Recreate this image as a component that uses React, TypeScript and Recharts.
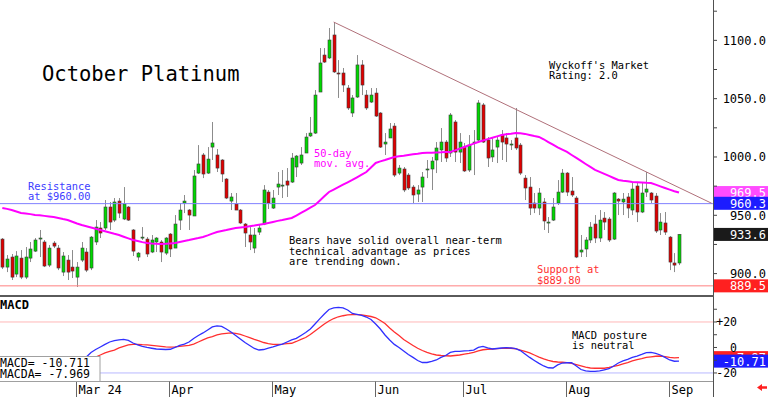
import React from "react";
import { ComposedChart, Bar, Line, XAxis, YAxis, ReferenceLine } from "recharts";

const FONT = "'DejaVu Sans Mono', 'Liberation Mono', monospace";
const PLOT_W = 714;
const AXIS_W = 54;
const SLOTS = 153; // 146 sessions + empty room on the right
const TOP_H = 296;
const MACD_TOP = 297;
const MACD_H = 100;
const DATE_H = 15.5;

// daily candles, Feb 7 .. Sep 5
const open = [
  929.6, 905.6, 914.2, 899.6, 913.3, 897.0, 913.3, 919.3, 930.1, 927.1,
  907.3, 926.2, 921.9, 901.3, 911.6, 905.6, 897.0, 911.6, 918.5, 904.8,
  927.1, 939.1, 939.1, 957.1, 945.9, 962.2, 946.8, 957.1, 937.4, 914.2,
  930.9, 929.6, 918.5, 927.1, 927.1, 917.6, 933.9, 921.9, 945.9, 960.5,
  954.5, 949.4, 986.2, 1001.7, 986.2, 1008.5, 1001.7, 997.4, 981.1, 962.2,
  959.7, 954.5, 942.5, 933.1, 921.9, 935.6, 942.5, 969.9, 956.2, 974.2,
  975.5, 979.4, 978.5, 991.4, 994.8, 1003.4, 1018.0, 1020.5, 1055.7, 1087.4,
  1084.9, 1104.6, 1072.0, 1072.0, 1059.1, 1037.7, 1051.4, 1078.9, 1053.1, 1047.1,
  1054.8, 1037.7, 1011.1, 1016.3, 1026.5, 986.2, 989.7, 984.5, 974.2, 968.2,
  974.2, 989.2, 989.7, 997.4, 1006.0, 1012.8, 1003.4, 1030.0, 1004.2, 1008.5,
  988.8, 1012.0, 1014.5, 1044.6, 1014.5, 1000.0, 1008.5, 1018.8, 1016.3, 1010.7,
  1016.3, 1010.2, 981.9, 974.2, 960.5, 956.2, 961.4, 943.4, 945.9, 960.5,
  969.9, 986.2, 970.8, 964.8, 918.5, 921.1, 928.8, 942.5, 930.5, 947.6,
  946.8, 929.6, 963.9, 961.4, 965.7, 954.5, 975.1, 952.8, 969.9, 969.1,
  966.5, 937.4, 943.4, 931.3, 909.1, 909.1,
];
const close = [
  905.6, 912.5, 897.0, 915.1, 897.0, 914.2, 921.1, 928.8, 930.5, 906.5,
  921.9, 923.6, 904.8, 915.1, 901.3, 902.2, 905.6, 921.9, 903.0, 931.3,
  939.9, 934.8, 957.1, 944.2, 961.4, 951.9, 959.7, 945.9, 919.3, 917.6,
  931.3, 916.8, 928.8, 930.5, 918.5, 930.5, 921.1, 942.5, 954.5, 962.2,
  950.2, 983.7, 994.0, 985.4, 998.2, 1012.0, 990.5, 985.4, 964.8, 965.7,
  954.5, 943.4, 934.8, 927.1, 933.1, 939.1, 971.7, 960.5, 964.8, 976.8,
  975.9, 975.9, 999.1, 1000.8, 1001.7, 1017.1, 1020.5, 1053.1, 1080.6, 1081.4,
  1100.3, 1072.9, 1071.6, 1061.7, 1042.0, 1050.6, 1078.9, 1061.7, 1042.0, 1053.1,
  1035.1, 1008.5, 1012.8, 1024.0, 984.5, 990.5, 971.7, 973.4, 967.4, 971.7,
  982.8, 989.7, 996.5, 1007.7, 1012.8, 999.1, 1036.0, 1004.2, 1012.8, 988.0,
  1010.2, 1012.8, 1046.3, 1012.8, 999.1, 1006.0, 1014.5, 1012.8, 1011.1, 1011.1,
  1007.7, 986.2, 973.4, 956.2, 956.2, 969.1, 945.1, 944.2, 957.1, 969.9,
  986.2, 969.9, 967.4, 914.2, 920.2, 928.8, 939.9, 930.5, 945.9, 944.2,
  928.8, 969.1, 962.2, 963.9, 956.2, 972.5, 952.8, 969.1, 972.5, 963.1,
  936.5, 944.2, 935.6, 909.9, 907.3, 933.6,
];
const high = [
  930.5, 915.9, 916.8, 919.3, 920.2, 922.8, 927.1, 930.5, 937.4, 928.8,
  924.5, 927.9, 924.5, 918.5, 915.9, 920.2, 909.9, 927.1, 921.9, 932.2,
  945.9, 944.2, 963.1, 961.4, 964.8, 964.8, 974.2, 957.9, 938.2, 918.5,
  939.9, 931.3, 933.1, 931.3, 928.8, 931.3, 934.8, 950.2, 960.5, 967.4,
  955.4, 988.8, 1010.2, 1003.4, 1008.5, 1030.0, 1006.8, 998.2, 981.9, 969.1,
  969.1, 955.4, 943.4, 939.9, 939.1, 942.5, 975.9, 971.7, 971.7, 987.1,
  988.8, 990.5, 1003.4, 1001.7, 1008.5, 1020.5, 1034.3, 1057.4, 1093.4, 1093.4,
  1110.6, 1115.7, 1083.1, 1076.3, 1061.7, 1053.1, 1087.4, 1083.1, 1057.4, 1059.1,
  1059.1, 1038.5, 1020.5, 1029.1, 1029.1, 993.1, 991.4, 986.2, 975.9, 975.9,
  987.1, 997.4, 1000.0, 1012.8, 1024.8, 1014.5, 1037.7, 1031.7, 1020.5, 1012.0,
  1018.8, 1023.1, 1048.8, 1046.3, 1017.1, 1016.3, 1017.1, 1023.1, 1020.5, 1014.5,
  1042.0, 1012.0, 984.5, 982.8, 969.1, 973.4, 964.8, 948.5, 964.8, 980.2,
  989.7, 987.1, 982.8, 966.5, 933.1, 931.3, 944.2, 950.2, 954.5, 952.8,
  948.5, 969.9, 964.8, 969.1, 969.1, 978.5, 977.7, 977.7, 987.1, 969.9,
  969.1, 951.9, 952.8, 932.2, 917.6, 933.9,
];
const low = [
  903.9, 901.3, 894.5, 897.0, 895.3, 895.3, 909.9, 918.5, 914.2, 905.6,
  905.6, 921.9, 903.0, 897.9, 894.5, 896.2, 888.5, 909.9, 901.3, 903.0,
  924.5, 930.5, 937.4, 937.4, 944.2, 947.6, 945.9, 945.1, 915.1, 910.8,
  928.8, 914.2, 917.6, 918.5, 909.9, 915.9, 914.2, 921.9, 937.4, 951.9,
  937.4, 949.4, 985.4, 981.9, 985.4, 997.4, 987.1, 978.5, 963.9, 954.5,
  954.5, 942.5, 922.8, 920.2, 917.6, 933.1, 941.6, 955.4, 955.4, 967.4,
  964.8, 965.7, 977.7, 982.8, 993.1, 1003.4, 1017.1, 1019.7, 1055.7, 1080.6,
  1084.0, 1072.0, 1050.6, 1055.7, 1040.3, 1034.3, 1050.6, 1053.1, 1040.3, 1046.3,
  1034.3, 1007.7, 1001.7, 1016.3, 982.8, 984.5, 969.9, 971.7, 960.5, 961.4,
  961.4, 981.9, 971.7, 986.2, 995.7, 995.7, 1000.0, 995.7, 994.8, 987.1,
  987.1, 984.5, 1012.8, 1012.0, 991.4, 995.7, 994.8, 997.4, 995.7, 1006.0,
  1006.0, 984.5, 963.1, 950.2, 951.9, 950.2, 937.4, 934.8, 945.1, 958.8,
  969.1, 966.5, 965.7, 913.3, 914.2, 914.2, 926.2, 926.2, 927.1, 937.4,
  927.1, 928.8, 950.2, 950.2, 947.6, 950.2, 944.2, 951.9, 965.7, 960.5,
  934.8, 933.1, 933.1, 903.0, 901.3, 907.3,
];

// 50-day moving average
const ma50 = [
  956.3, 955.5, 954.5, 953.3, 952.0, 951.5, 951.0, 950.3, 950.0, 949.5,
  949.0, 948.5, 947.7, 946.8, 946.0, 944.5, 943.0, 941.7, 940.6, 939.5,
  938.4, 937.4, 936.3, 935.2, 934.1, 933.1, 931.6, 930.2, 928.8, 927.9,
  927.0, 926.2, 925.8, 925.5, 925.4, 925.6, 925.9, 926.2, 927.1, 928.0,
  928.8, 929.7, 930.5, 931.4, 932.8, 934.3, 935.7, 936.6, 937.4, 938.3,
  939.1, 939.6, 940.0, 940.6, 941.2, 941.9, 942.5, 943.4, 944.3, 945.2,
  946.0, 946.9, 947.7, 949.8, 952.0, 954.3, 956.6, 958.8, 962.5, 966.3,
  970.0, 972.1, 974.1, 976.2, 978.2, 980.3, 982.6, 984.8, 987.1, 991.0,
  994.9, 996.2, 997.4, 998.7, 1000.0, 1000.6, 1001.1, 1001.7, 1002.3, 1002.8,
  1003.4, 1003.6, 1003.7, 1003.9, 1004.0, 1004.2, 1004.3, 1005.7, 1007.2, 1008.6,
  1010.0, 1011.5, 1012.9, 1014.1, 1015.3, 1016.5, 1017.7, 1018.9, 1019.5, 1020.0,
  1020.6, 1020.3, 1019.8, 1018.9, 1018.0, 1017.2, 1015.2, 1012.8, 1010.5, 1008.3,
  1006.3, 1004.3, 1001.7, 999.2, 996.6, 994.0, 991.5, 988.9, 987.2, 985.5,
  983.8, 982.0, 980.3, 979.7, 979.2, 978.6, 978.4, 978.2, 977.9, 977.7,
  976.3, 974.8, 973.4, 972.0, 970.6, 969.5,
];

// MACD (starts at session 18) and its average (starts at session 20)
const MACD_START = 18;
const macdLine = [
  -7.5, -3.9, -1.6, 0.4, 2.4, 4.3, 5.3, 6.0, 6.4, 5.5,
  3.5, 2.0, 0.8, 0, -0.6, -1.2, -1.4, -1.6, -1.4, 0,
  1.6, 2.7, 4.3, 7.1, 9.4, 11.4, 13.7, 16.1, 16.9, 16.6,
  14.5, 12.2, 9.4, 6.7, 3.9, 1.6, -0.8, -2.0, -1.6, -0.5,
  0.4, 1.7, 2.7, 4.3, 5.9, 7.1, 9.4, 11.8, 14.5, 18.4,
  22.4, 26.3, 29.8, 31.1, 31.5, 31.1, 29.4, 26.7, 25.9, 25.1,
  23.9, 22.0, 18.4, 14.5, 9.8, 5.9, 2.4, 0, -2.7, -5.5,
  -7.8, -10.2, -11.8, -11.8, -11.0, -9.8, -7.8, -6.3, -3.9, -3.1,
  -3.0, -2.7, -2.5, -2.0, 0, 0.8, -0.4, -1.2, -0.8, -0.4,
  -0.2, -0.4, -0.9, -2.4, -5.1, -7.8, -10.2, -12.5, -14.5, -15.9,
  -16.1, -13.7, -12.2, -12.0, -12.0, -14.5, -17.3, -18.4, -18.7, -18.7,
  -18.3, -17.5, -16.7, -14.5, -12.2, -10.6, -9.4, -7.8, -6.7, -5.5,
  -4.1, -3.9, -4.7, -5.9, -7.8, -9.8, -10.8, -10.711,
];
const SIGNAL_START = 20;
const signalLine = [
  -7.5, -5.9, -4.3, -3.1, -2.0, -0.4, 0.8, 2.0, 2.5, 2.5,
  2.2, 2.0, 1.6, 1.2, 0.8, 0.4, 0.2, 0.4, 0.8, 1.2,
  1.6, 2.7, 4.3, 5.9, 7.5, 8.6, 9.8, 10.6, 11.1, 11.5,
  11.1, 10.2, 9.0, 7.7, 6.3, 5.1, 3.9, 3.1, 2.5, 2.5,
  2.7, 3.0, 3.3, 4.7, 6.3, 7.8, 10.2, 12.9, 15.7, 18.4,
  20.8, 22.7, 24.1, 24.9, 25.5, 25.7, 25.7, 25.5, 24.9, 24.3,
  23.3, 21.2, 18.8, 15.3, 12.2, 9.4, 6.3, 3.9, 1.6, -0.6,
  -2.4, -3.9, -5.1, -5.9, -6.3, -6.5, -6.7, -6.3, -5.9, -5.3,
  -4.7, -3.9, -2.7, -1.8, -1.4, -1.2, -0.9, -0.7, -0.6, -0.6,
  -1.0, -2.0, -3.1, -4.3, -5.9, -7.5, -9.0, -10.2, -11.0, -11.4,
  -11.6, -11.9, -12.5, -13.5, -14.5, -15.5, -16.1, -16.3, -16.3, -16.3,
  -15.7, -14.9, -14.0, -12.8, -11.8, -10.6, -9.6, -8.8, -7.8, -7.3,
  -6.9, -6.7, -7.1, -7.7, -8.1, -7.969,
];

// downtrend line from the May high
const trendIdx = [71, 152];
const trendVal = [1115.7, 960.3];

const resistance = 960;
const support = 889.5;

const monthTickIdx = [16, 36, 58, 80, 99, 121, 143];
const monthTickLabel = ["Mar 24", "Apr", "May", "Jun", "Jul", "Aug", "Sep"];
const priceTicks = [900, 925, 950, 975, 1000, 1025, 1050, 1075, 1100, 1125];
const macdTicks = [-20, -10, 0, 10, 20, 30];

const rows = Array.from({ length: SLOTS }, (_, i) => {
  const has = i < close.length;
  const t = trendIdx.indexOf(i);
  return {
    i,
    open: has ? open[i] : null,
    close: has ? close[i] : null,
    high: has ? high[i] : null,
    low: has ? low[i] : null,
    range: has ? [low[i], high[i]] : null,
    ma: has ? ma50[i] : null,
    trend: t >= 0 ? trendVal[t] : null,
    macd: has && i >= MACD_START ? macdLine[i - MACD_START] : null,
    signal: has && i >= SIGNAL_START ? signalLine[i - SIGNAL_START] : null,
    none: null,
  };
});

function Candle(props: any) {
  const { x, y, width, height, payload } = props;
  if (!payload || payload.high == null) return <g />;
  const top = Math.min(y, y + height);
  const h = Math.abs(height);
  const span = payload.high - payload.low || 1;
  const py = (v: number) => top + ((payload.high - v) / span) * h;
  const cx = Math.round(x + width / 2) + 0.5;
  const up = payload.close >= payload.open;
  const bTop = py(Math.max(payload.open, payload.close));
  const bBot = py(Math.min(payload.open, payload.close));
  return (
    <g>
      <line x1={cx} x2={cx} y1={top} y2={top + h} stroke="#8c8c8c" strokeWidth={1} />
      <rect
        x={cx - 1.5}
        y={bTop}
        width={3}
        height={Math.max(bBot - bTop, 1)}
        fill={up ? "#00d800" : "#e00000"}
        stroke="#3a3a3a"
        strokeWidth={0.6}
      />
    </g>
  );
}

function tag(text: string, bg: string) {
  return (p: any) => {
    const vb = p.viewBox || {};
    const x = (vb.x ?? 0) + (vb.width ?? 0);
    const y = vb.y ?? 0;
    return (
      <g>
        <rect x={x} y={y - 6.5} width={AXIS_W} height={13} fill={bg} />
        <text x={x + AXIS_W - 2} y={y + 4.5} textAnchor="end" fill="#fff" fontSize={12} fontFamily={FONT}>
          {text}
        </text>
      </g>
    );
  };
}

function PriceTick({ y, payload }: any) {
  const v = payload.value;
  return (
    <g>
      <line x1={PLOT_W} x2={PLOT_W + 3} y1={y} y2={y} stroke="#444" />
      {v % 50 === 0 && (
        <text x={766} y={y + 4.5} textAnchor="end" fontSize={12} fontFamily={FONT} fill="#000">
          {v.toFixed(1)}
        </text>
      )}
    </g>
  );
}

function MacdTick({ y, payload }: any) {
  const v = payload.value;
  const label = v === 20 ? "+20" : v === 0 ? "0" : v === -20 ? "-20" : "";
  return (
    <g>
      <line x1={PLOT_W} x2={PLOT_W + 3} y1={y} y2={y} stroke="#444" />
      {label && (
        <text x={737} y={y + 4.5} textAnchor="end" fontSize={11.5} fontFamily={FONT} fill="#000">
          {label}
        </text>
      )}
    </g>
  );
}

function DateTick({ x, payload }: any) {
  const k = monthTickIdx.indexOf(payload.value);
  const tx = Math.round(x - 1) + 0.5;
  return (
    <g>
      <line x1={tx} x2={tx} y1={MACD_H - DATE_H} y2={MACD_H} stroke="#666" />
      <text x={tx + 2} y={96.5} fontSize={12} fontFamily={FONT} fill="#000">
        {monthTickLabel[k]}
      </text>
    </g>
  );
}

const txt = { fontFamily: FONT, fontSize: 10.4 };

export default function App() {
  const lastClose = close[close.length - 1];
  const lastMa = ma50[ma50.length - 1];
  const lastMacd = macdLine[macdLine.length - 1];
  const lastSignal = signalLine[signalLine.length - 1];

  return (
    <div style={{ position: "relative", width: 768, height: 397, background: "#fff", overflow: "hidden" }}>
      <style>{"body{margin:0;}"}</style>

      {/* price panel */}
      <div style={{ position: "absolute", left: 0, top: 0 }}>
        <ComposedChart width={768} height={TOP_H} data={rows} margin={{ top: 0, right: 0, bottom: 0, left: 0 }}>
          <XAxis dataKey="i" hide />
          <YAxis
            orientation="right"
            width={AXIS_W}
            domain={[880.8, 1134.6]}
            allowDataOverflow
            ticks={priceTicks}
            interval={0}
            tick={(p: any) => <PriceTick {...p} />}
            tickLine={false}
            axisLine={false}
          />
          <ReferenceLine y={resistance} stroke="#8080ff" />
          <ReferenceLine y={support} stroke="#ff8080" label={tag(support.toFixed(1), "#ff2020")} />
          <Bar dataKey="range" shape={(p: any) => <Candle {...p} />} isAnimationActive={false} />
          <Line dataKey="ma" stroke="#ff00ff" strokeWidth={2} dot={false} activeDot={false} isAnimationActive={false} />
          <Line
            dataKey="trend"
            stroke="#b0707a"
            strokeWidth={1}
            dot={false}
            activeDot={false}
            connectNulls
            isAnimationActive={false}
          />
          <ReferenceLine y={lastMa} stroke="none" label={tag(lastMa.toFixed(1), "#ff4cff")} />
          <ReferenceLine y={trendVal[1]} stroke="none" label={tag(trendVal[1].toFixed(1), "#1c1cff")} />
          <ReferenceLine y={lastClose} stroke="none" label={tag(lastClose.toFixed(1), "#1a1a1a")} />
        </ComposedChart>
      </div>

      {/* MACD panel */}
      <div style={{ position: "absolute", left: 0, top: MACD_TOP }}>
        <ComposedChart width={768} height={MACD_H} data={rows} margin={{ top: 0, right: 0, bottom: 0, left: 0 }}>
          <XAxis
            dataKey="i"
            ticks={monthTickIdx}
            interval={0}
            height={DATE_H}
            tick={(p: any) => <DateTick {...p} />}
            tickLine={false}
            axisLine={{ stroke: "#999" }}
          />
          <YAxis
            orientation="right"
            width={AXIS_W}
            domain={[-26.7, 39.6]}
            allowDataOverflow
            ticks={macdTicks}
            interval={0}
            tick={(p: any) => <MacdTick {...p} />}
            tickLine={false}
            axisLine={false}
          />
          <ReferenceLine y={20} stroke="#ffb8b8" />
          <ReferenceLine y={-20} stroke="#b8b8ff" />
          <Bar dataKey="none" fill="none" isAnimationActive={false} />
          <Line dataKey="signal" stroke="#ff3030" strokeWidth={1.3} dot={false} activeDot={false} isAnimationActive={false} />
          <Line dataKey="macd" stroke="#3030ff" strokeWidth={1.3} dot={false} activeDot={false} isAnimationActive={false} />
          <ReferenceLine y={lastSignal} stroke="none" label={tag(lastSignal.toFixed(2), "#ff2020")} />
          <ReferenceLine y={lastMacd} stroke="none" label={tag(lastMacd.toFixed(2), "#1c1cff")} />
        </ComposedChart>
      </div>

      {/* annotations */}
      <svg width={768} height={397} style={{ position: "absolute", left: 0, top: 0, pointerEvents: "none" }}>
        <line x1={713.5} x2={713.5} y1={0} y2={397} stroke="#505050" />
        <rect x={0} y={295} width={PLOT_W} height={2} fill="#5a5a5a" />

        <text x={42} y={81} fontFamily={FONT} fontSize={20.5} fill="#000">October Platinum</text>

        <text x={28} y={189.5} {...txt} fill="#3c3cff">Resistance</text>
        <text x={28} y={200} {...txt} fill="#3c3cff">at $960.00</text>

        <text x={314} y={156.5} {...txt} fill="#ff00ff">50-day</text>
        <text x={314} y={167} {...txt} fill="#ff00ff">mov. avg.</text>

        <text x={289} y={244} {...txt} fill="#000">Bears have solid overall near-term</text>
        <text x={289} y={254.5} {...txt} fill="#000">technical advantage as prices</text>
        <text x={289} y={265} {...txt} fill="#000">are trending down.</text>

        <text x={549} y={68.5} {...txt} fill="#000">Wyckoff's Market</text>
        <text x={549} y={79} {...txt} fill="#000">Rating: 2.0</text>

        <text x={537} y={273} {...txt} fill="#ff3030">Support at</text>
        <text x={537} y={283.5} {...txt} fill="#ff3030">$889.80</text>

        <text x={572} y={338.5} {...txt} fill="#000">MACD posture</text>
        <text x={572} y={349} {...txt} fill="#000">is neutral</text>

        <text x={0} y={308.5} fontFamily={FONT} fontSize={12} fontWeight="bold" fill="#000">MACD</text>

        <rect x={-1} y={356.5} width={101} height={25} fill="#fff" stroke="#a0a0a0" />
        <text x={0} y={366.5} fontFamily={FONT} fontSize={11.5} fill="#000">{`MACD= ${lastMacd.toFixed(3)}`}</text>
        <text x={0} y={377.5} fontFamily={FONT} fontSize={11.5} fill="#000">{`MACDA= ${lastSignal.toFixed(3)}`}</text>

        <polygon points="757,387.5 762,384 762,386.3 767,386.3 767,388.7 762,388.7 762,391" fill="#ff2020" />
      </svg>
    </div>
  );
}
